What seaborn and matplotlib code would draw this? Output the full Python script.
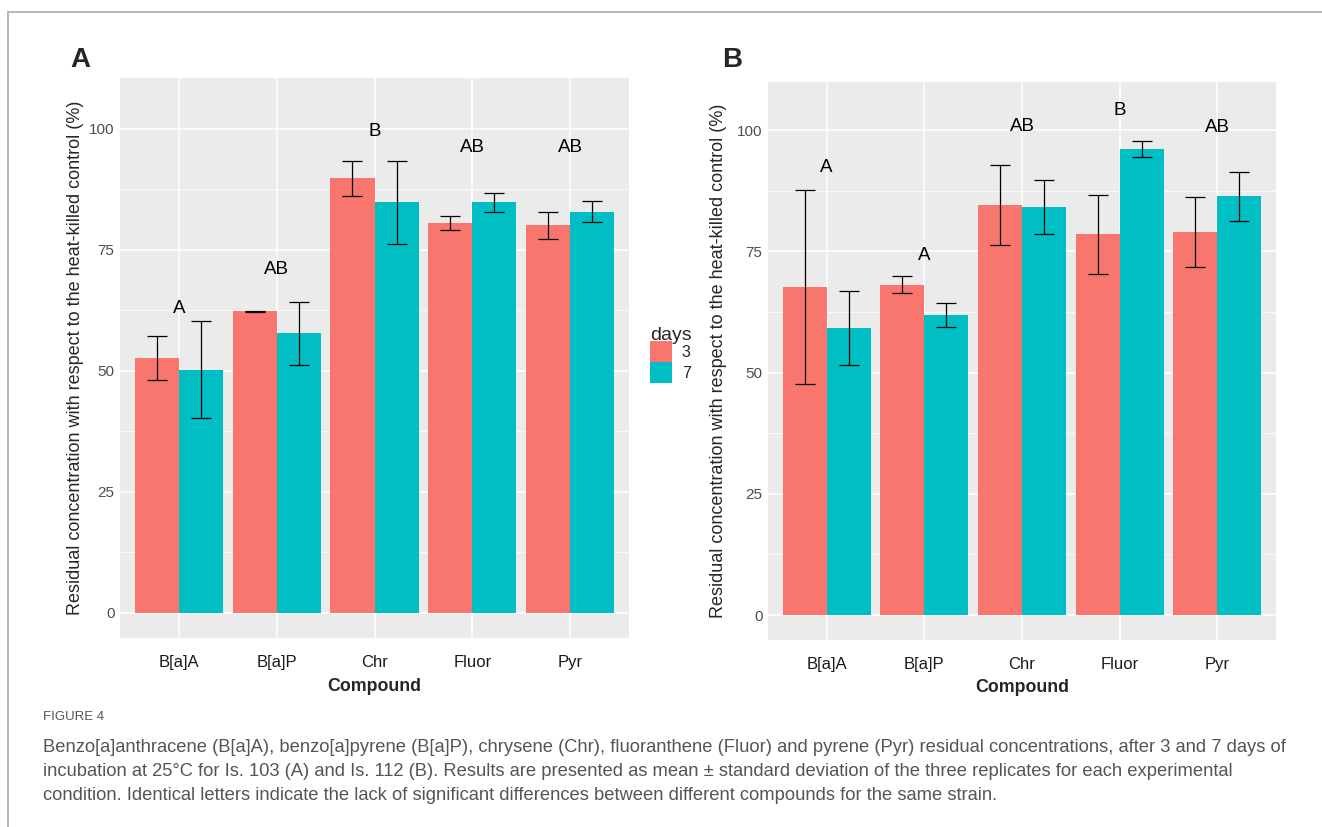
import numpy as np
import pandas as pd
import seaborn as sns
import matplotlib.pyplot as plt
from matplotlib.patches import Patch
from matplotlib.lines import Line2D

# values
compounds = ["B[a]A", "B[a]P", "Chr", "Fluor", "Pyr"]
days = ["3", "7"]

a_day3 = [52.7, 62.3, 89.8, 80.5, 80.1]
a_day3_sd = [4.5, 0.1, 3.6, 1.4, 2.8]
a_day7 = [50.2, 57.8, 84.8, 84.8, 82.9]
a_day7_sd = [10.0, 6.5, 8.5, 2.0, 2.1]
a_letters = ["A", "AB", "B", "AB", "AB"]
a_letter_y = [62.8, 70.9, 99.5, 96.1, 96.1]

b_day3 = [67.7, 68.1, 84.5, 78.5, 79.0]
b_day3_sd = [20.0, 1.7, 8.2, 8.1, 7.2]
b_day7 = [59.2, 61.9, 84.1, 96.1, 86.3]
b_day7_sd = [7.6, 2.5, 5.5, 1.6, 5.0]
b_letters = ["A", "A", "AB", "B", "AB"]
b_letter_y = [92.3, 74.2, 100.8, 104.1, 100.5]

yticks = [0, 25, 50, 75, 100]
palette = {"3": "#F8766D", "7": "#00BFC4"}
ylabel = "Residual concentration with respect to the heat-killed control (%)"

caption_title = "FIGURE 4"
caption_lines = [
    "Benzo[a]anthracene (B[a]A), benzo[a]pyrene (B[a]P), chrysene (Chr), fluoranthene (Fluor) and pyrene (Pyr) residual concentrations, after 3 and 7 days of",
    "incubation at 25\u00b0C for Is. 103 (A) and Is. 112 (B). Results are presented as mean \u00b1 standard deviation of the three replicates for each experimental",
    "condition. Identical letters indicate the lack of significant differences between different compounds for the same strain.",
]

sns.set_style("white")
plt.rcParams["font.family"] = ["Liberation Sans", "DejaVu Sans"]

W, H = 1322, 827
fig = plt.figure(figsize=(W / 100, H / 100), dpi=100)


def px_axes(left, top, right, bottom):
    return fig.add_axes([left / W, 1 - bottom / H, (right - left) / W, (bottom - top) / H])


def make_df(d3, s3, d7, s7):
    df = pd.DataFrame({
        "Compound": compounds * 2,
        "days": ["3"] * len(compounds) + ["7"] * len(compounds),
        "value": d3 + d7,
        "sd": s3 + s7,
    })
    return df


def draw_panel(ax, df, letters, letter_y, ylim, ylab_x):
    ax.set_facecolor("#EBEBEB")
    sns.barplot(data=df, x="Compound", y="value", hue="days", palette=palette,
                order=compounds, hue_order=days, errorbar=None, width=0.9,
                saturation=1, linewidth=0, legend=False, ax=ax, zorder=2)
    # error bars on top of each bar
    for cont, d in zip(ax.containers, days):
        sub = df[df["days"] == d].set_index("Compound").loc[compounds]
        xs = [p.get_x() + p.get_width() / 2 for p in cont.patches]
        ax.errorbar(xs, sub["value"], yerr=sub["sd"], fmt="none", ecolor="black",
                    elinewidth=0.9, capsize=7, capthick=0.9, zorder=3)
    for i, (lab, yy) in enumerate(zip(letters, letter_y)):
        ax.text(i, yy, lab, ha="center", va="center", fontsize=13.5, color="black", zorder=4)

    ax.set_xlim(-0.6, len(compounds) - 0.4)
    ax.set_ylim(*ylim)
    ax.set_yticks(yticks)
    ax.set_yticks([12.5, 37.5, 62.5, 87.5], minor=True)
    ax.grid(True, which="major", color="white", linewidth=1.1, zorder=0)
    ax.grid(True, which="minor", axis="y", color="white", linewidth=0.5, zorder=0)
    ax.set_axisbelow(True)
    for s in ax.spines.values():
        s.set_visible(False)
    ax.tick_params(axis="both", which="major", length=2.5, width=0.8, color="#333333",
                   labelcolor="#4D4D4D", labelsize=11, pad=1.5, direction="out")
    ax.tick_params(axis="y", which="minor", length=0)
    ax.tick_params(axis="x", labelsize=12, labelcolor="#1A1A1A", pad=9.5)
    ax.set_xlabel("")
    ax.set_ylabel("")
    ax.text(0.5, -0.086, "Compound", transform=ax.transAxes, ha="center", va="center",
            fontsize=12.8, fontweight="bold")
    ax.text(ylab_x, 0.5, ylabel, transform=ax.transAxes, rotation=90,
            ha="center", va="center", fontsize=13)


axA = px_axes(120, 78, 629, 638)
dfA = make_df(a_day3, a_day3_sd, a_day7, a_day7_sd)
draw_panel(axA, dfA, a_letters, a_letter_y, (-5.2, 110.5), -0.087)

axB = px_axes(768, 82, 1276, 640)
dfB = make_df(b_day3, b_day3_sd, b_day7, b_day7_sd)
draw_panel(axB, dfB, b_letters, b_letter_y, (-5.15, 109.9), -0.097)

# panel tags
fig.text(70 / W, 1 - 60 / H, "A", fontsize=20, fontweight="bold", ha="left", va="center")
fig.text(722 / W, 1 - 60 / H, "B", fontsize=20, fontweight="bold", ha="left", va="center")

# legend
handles = [Patch(facecolor=palette[d], edgecolor="none") for d in days]
leg = fig.legend(handles, days, title="days", loc="upper left",
                 bbox_to_anchor=(650 / W, 1 - 327 / H), frameon=False,
                 fontsize=11.5, title_fontsize=14, handlelength=1.4, handleheight=1.64,
                 labelspacing=0.02, handletextpad=0.6, borderaxespad=0, borderpad=0)
leg._legend_box.align = "left"
leg._legend_box.sep = -2

# caption
fig.text(43 / W, 1 - 717 / H, caption_title, fontsize=9.5, color="#555555", ha="left", va="center")
for k, line in enumerate(caption_lines):
    fig.text(43 / W, 1 - (747 + 24 * k) / H, line, fontsize=13.2, color="#555555",
             ha="left", va="center")

# thin frame around the figure block
fig.add_artist(Line2D([8 / W, 1], [1 - 12 / H, 1 - 12 / H], color="#AAAAAA", linewidth=1.2))
fig.add_artist(Line2D([8 / W, 8 / W], [0, 1 - 12 / H], color="#AAAAAA", linewidth=1.2))

fig.savefig("out.png", dpi=100)
